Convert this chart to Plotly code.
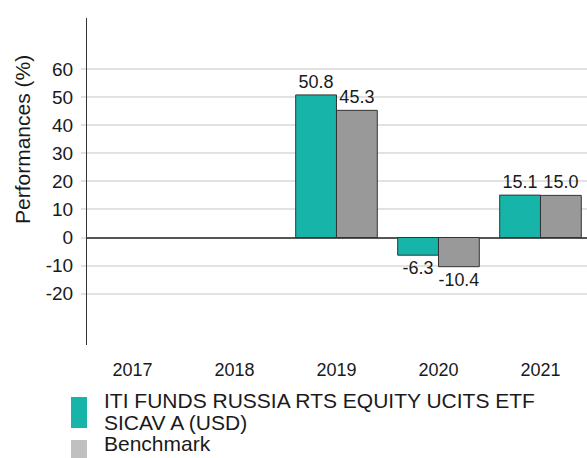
import plotly.graph_objects as go

years = ["2017", "2018", "2019", "2020", "2021"]
fund_name_lines = ["ITI FUNDS RUSSIA RTS EQUITY UCITS ETF", "SICAV A (USD)"]
fund_values = [None, None, 50.8, -6.3, 15.1]
bench_name = "Benchmark"
bench_values = [None, None, 45.3, -10.4, 15.0]
y_ticks = [-20, -10, 0, 10, 20, 30, 40, 50, 60]
y_tick_text = ["-20", "-10", "0", "10", "20", "30", "40", "50", "60"]

FONT = "Arial, Liberation Sans, sans-serif"
TEAL = "#17b5a9"
GRAY = "#999999"
LEGEND_GRAY = "#c0c0c0"
TEXT = "#1a1a1a"

# plot area in pixels (for converting legend placement to paper coords)
L, T, W, H = 87, 18, 500, 327
def px_x(x):
    return (x - L) / W
def px_y(y):
    return (T + H - y) / H

def fmt(v):
    return "" if v is None else f"{v:.1f}"

fig = go.Figure()
fig.add_trace(go.Bar(
    x=years, y=fund_values, name=" ".join(fund_name_lines), showlegend=False,
    marker=dict(color=TEAL, line=dict(color="#333333", width=1)),
    text=[fmt(v) for v in fund_values], textposition="outside",
    textfont=dict(size=18, color=TEXT, family=FONT), cliponaxis=False,
))
fig.add_trace(go.Bar(
    x=years, y=bench_values, name=bench_name, showlegend=False,
    marker=dict(color=GRAY, line=dict(color="#333333", width=1)),
    text=[fmt(v) for v in bench_values], textposition="outside",
    textfont=dict(size=18, color=TEXT, family=FONT), cliponaxis=False,
))

legend_font = dict(size=21, family=FONT, color=TEXT)
annotations = [dict(
    text="Performances (%)", textangle=-90,
    xref="paper", yref="paper", x=px_x(22), y=px_y(140),
    xanchor="center", yanchor="middle", showarrow=False,
    font=dict(size=21, family=FONT, color=TEXT),
)]
legend_lines = [(fund_name_lines[0], 400.5), (fund_name_lines[1], 422.5), (bench_name, 443.5)]
for txt, ymid in legend_lines:
    annotations.append(dict(
        text=txt, xref="paper", yref="paper", x=px_x(102), y=px_y(ymid),
        xanchor="left", yanchor="middle", showarrow=False, font=legend_font,
    ))

shapes = [
    dict(type="rect", xref="paper", yref="paper",
         x0=px_x(71), x1=px_x(87), y0=px_y(428), y1=px_y(397),
         fillcolor=TEAL, line=dict(width=0)),
    dict(type="rect", xref="paper", yref="paper",
         x0=px_x(71), x1=px_x(87), y0=px_y(459), y1=px_y(440),
         fillcolor=LEGEND_GRAY, line=dict(width=0)),
]

fig.update_layout(
    width=587, height=458,
    margin=dict(l=L, r=587 - L - W, t=T, b=458 - T - H, autoexpand=False),
    paper_bgcolor="white", plot_bgcolor="white",
    font=dict(family=FONT, size=18, color=TEXT),
    barmode="group", bargap=0.2, bargroupgap=0,
    showlegend=False,
    xaxis=dict(
        type="category", range=[-0.446, 4.456],
        showgrid=False, showline=False, zeroline=False,
        ticks="outside", ticklen=8, tickcolor="rgba(0,0,0,0)",
        tickfont=dict(size=18, family=FONT, color=TEXT),
    ),
    yaxis=dict(
        range=[-38.3, 78.2], tickvals=y_ticks, ticktext=y_tick_text,
        showgrid=True, gridcolor="#e2e2e2", gridwidth=1.5,
        zeroline=True, zerolinecolor="#555555", zerolinewidth=1.5,
        showline=True, linecolor="#333333", linewidth=1,
        ticks="outside", ticklen=5, tickcolor="#e2e2e2", tickwidth=1.5,
        ticklabelstandoff=4,
        tickfont=dict(size=19, family=FONT, color=TEXT),
    ),
    annotations=annotations,
    shapes=shapes,
)

fig.write_html(
    "out.html",
    config={"displayModeBar": False},
    post_script="document.body.style.margin='0';document.body.style.overflow='hidden';",
)
